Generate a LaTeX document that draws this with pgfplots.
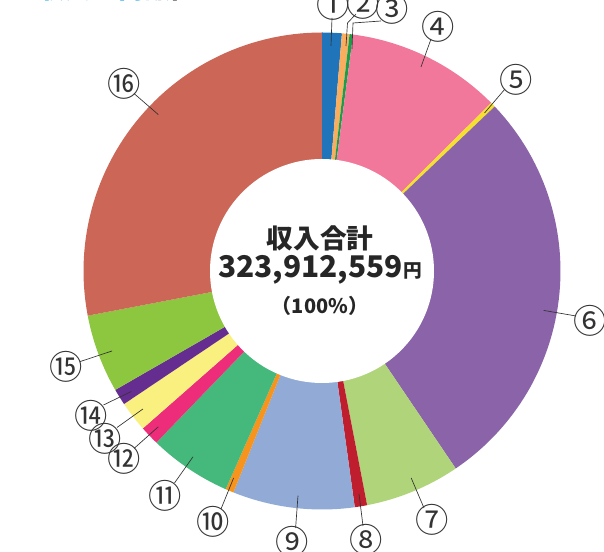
\documentclass[border=0pt]{standalone}
\usepackage{pgfplots}
\pgfplotsset{compat=1.18}
\usepackage{fontspec}
\newfontfamily\jp{Noto Sans CJK JP}
\definecolor{c1}{HTML}{1F74BA}
\definecolor{c2}{HTML}{F9AE5F}
\definecolor{c3}{HTML}{1A9E4A}
\definecolor{c4}{HTML}{F2789B}
\definecolor{c5}{HTML}{F5E12D}
\definecolor{c6}{HTML}{8A63A8}
\definecolor{c7}{HTML}{B0D47A}
\definecolor{c8}{HTML}{BE1E2D}
\definecolor{c9}{HTML}{91AAD6}
\definecolor{c10}{HTML}{F7941D}
\definecolor{c11}{HTML}{45B97C}
\definecolor{c12}{HTML}{EE2D7A}
\definecolor{c13}{HTML}{FAF07F}
\definecolor{c14}{HTML}{662D91}
\definecolor{c15}{HTML}{8DC63F}
\definecolor{c16}{HTML}{CC6657}
\definecolor{titleblue}{HTML}{12A3E3}
\definecolor{lbl}{HTML}{333333}
% segment: start angle, end angle (degrees clockwise from top), colour
\newcommand{\seg}[3]{\addplot[fill=#3, draw=none, domain=#1:#2, samples=60] ({322+238.5*sin(x)},{-271+238.5*cos(x)}) -- (axis cs:322,-271) -- cycle;}
\newcommand{\lab}[5]{\draw[lbl, line width=0.5pt] (axis cs:#1,-#2) -- (axis cs:#3,-#4);}
\newcommand{\num}[3]{\node[lbl, font=\jp\fontsize{25}{25}\selectfont, inner sep=0pt] at (axis cs:#1,-#2) {#3};}
\begin{document}
\begin{tikzpicture}
\useasboundingbox (0,0) rectangle (453pt,414pt);
\clip (0,0) rectangle (453pt,414pt);
\begin{axis}[at={(0,0)}, anchor=south west, scale only axis, width=453pt, height=414pt,
  xmin=0, xmax=604, ymin=-552, ymax=0, hide axis, clip=false]
% shares of total (degrees of the ring): 4.8, 1.85, 0.85, 37.7, 1.2, 99.5, 23.2, 3.0, 29.7, 2.0, 20.2, 4.7, 7.4, 4.0, 19.1, 100.8
\seg{0}{4.8}{c1}
\seg{4.8}{6.65}{c2}
\seg{6.65}{7.5}{c3}
\seg{7.5}{45.2}{c4}
\seg{45.2}{46.4}{c5}
\seg{46.4}{145.9}{c6}
\seg{145.9}{169.1}{c7}
\seg{169.1}{172.1}{c8}
\seg{172.1}{201.8}{c9}
\seg{201.8}{203.8}{c10}
\seg{203.8}{224.0}{c11}
\seg{224.0}{228.7}{c12}
\seg{228.7}{236.1}{c13}
\seg{236.1}{240.1}{c14}
\seg{240.1}{259.2}{c15}
\seg{259.2}{360}{c16}
\fill[white] (axis cs:322,-271) circle[radius=84pt];
% centre text
\node[font=\jp\bfseries\fontsize{20}{20}\selectfont, text=black!85] at (axis cs:320,-238) {収入合計};
\node[font=\jp\bfseries\fontsize{22.4}{22.4}\selectfont, text=black!85, inner sep=0pt] at (axis cs:320,-270) {323,912,559{\fontsize{14}{14}\selectfont 円}};
\node[font=\jp\bfseries\fontsize{15}{15}\selectfont, text=black!85] at (axis cs:320,-306) {（100\%）};
% title sliver
\node[font=\jp\bfseries\fontsize{20}{20}\selectfont, text=titleblue, anchor=base west, inner sep=0pt] at (axis cs:38,1) {収入の内訳};
\node[font=\jp\bfseries\fontsize{20}{20}\selectfont, text=black!85, anchor=base west, inner sep=0pt] at (axis cs:156,1) {計};
% leader lines
\lab{331}{46}{332}{18}{}
\draw[lbl, line width=0.5pt] (axis cs:346,-46) -- (axis cs:347.5,-23) -- (axis cs:356,-14);
\draw[lbl, line width=0.5pt] (axis cs:352,-49) -- (axis cs:353,-23) -- (axis cs:381,-21);
\lab{421}{67}{431}{39}{}
\lab{484.6}{112.9}{505}{89}{}
\lab{543.6}{310.4}{576}{316}{}
\lab{411.2}{478}{424}{508}{}
\lab{359}{493.8}{363}{526}{}
\lab{298}{495.6}{295.6}{528}{}
\lab{233.6}{478}{221}{509}{}
\lab{193}{456.8}{174.5}{483}{}
\lab{158.3}{426.8}{134}{448.5}{}
\lab{142.9}{409}{117}{427.5}{}
\lab{131.3}{391.5}{103.5}{405}{}
\lab{112}{351}{80}{361.6}{}
\lab{158.3}{114.6}{134}{93.5}{}
% circled numbers
\num{332.8}{4.5}{①}
\num{363}{4}{②}
\num{392}{9}{③}
\num{438}{26.5}{④}
\num{516.6}{79.4}{⑤}
\num{590}{321}{⑥}
\num{431.7}{520.3}{⑦}
\num{366}{539.7}{⑧}
\num{292.3}{541.4}{⑨}
\num{213}{522}{⑩}
\num{165}{495.6}{⑪}
\num{124.3}{459.3}{⑫}
\num{105}{439}{⑬}
\num{90.7}{416.2}{⑭}
\num{66.4}{366.8}{⑮}
\num{124.3}{83.6}{⑯}
\end{axis}
\end{tikzpicture}
\end{document}
